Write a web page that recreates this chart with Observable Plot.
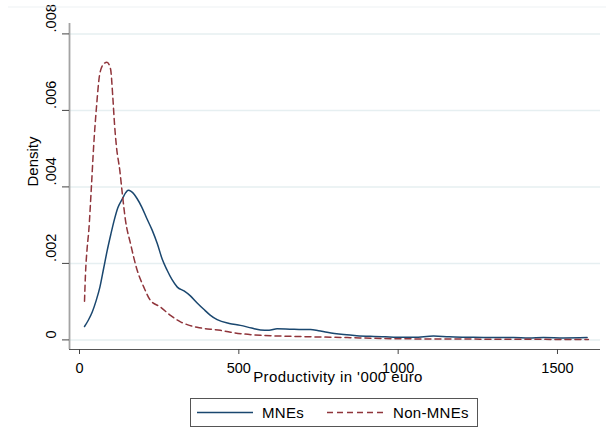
<!DOCTYPE html>
<html>
<head>
<meta charset="utf-8">
<script src="https://cdn.jsdelivr.net/npm/d3@7"></script>
<script src="https://cdn.jsdelivr.net/npm/@observablehq/plot@0.6"></script>
<style>
  html, body { margin: 0; padding: 0; background: #fff; }
  body { font-family: "Liberation Sans", Arial, sans-serif; }
  #chart { position: relative; width: 606px; height: 445px; background: #fff; }
  #legend { position: absolute; left: 190px; top: 398px; }
</style>
</head>
<body>
<div id="chart"></div>
<script>
// ---- data ----
const seriesNames = ["MNEs", "Non-MNEs"];
const seriesColors = ["#1a476f", "#90353b"];

const mneX = [15.7, 28, 40, 52, 64, 76, 87, 98, 108, 120, 134, 145, 153, 162, 172, 181, 195, 212, 228, 244, 260, 275, 290, 307, 328, 348, 370, 390, 410, 432, 470, 505, 540, 568, 595, 620, 660, 700, 725, 750, 777, 800, 829, 870, 924, 960, 997, 1050, 1111, 1160, 1217, 1290, 1362, 1410, 1456, 1520, 1593];
const mneY = [0.00035, 0.00052, 0.00073, 0.00102, 0.00138, 0.00188, 0.00234, 0.00275, 0.0031, 0.00345, 0.00368, 0.00385, 0.00391, 0.00388, 0.0038, 0.00369, 0.00348, 0.00316, 0.00287, 0.00252, 0.0021, 0.00182, 0.00158, 0.00138, 0.00128, 0.00115, 0.00096, 0.0008, 0.00065, 0.00053, 0.00043, 0.00038, 0.00031, 0.00026, 0.00025, 0.00029, 0.00028, 0.00027, 0.00027, 0.00024, 0.0002, 0.00017, 0.00014, 0.00011, 0.00009, 0.00008, 0.00007, 0.00007, 0.0001, 0.00008, 0.00007, 0.00006, 0.00006, 0.00005, 0.000065, 0.00005, 0.00006];

const nonX = [15.7, 18.8, 24, 29.2, 36.7, 44.9, 53.3, 63.7, 76.3, 86, 97.3, 104.5, 109.8, 116.1, 126.5, 134, 144.4, 160, 181, 201.8, 222.8, 254, 285.6, 317, 338, 369, 442, 474, 568, 683, 840, 997, 1258, 1597];
const nonY = [0.00101, 0.00173, 0.0024, 0.00286, 0.00391, 0.00513, 0.00609, 0.00696, 0.00722, 0.00726, 0.00709, 0.00635, 0.00565, 0.00504, 0.00443, 0.00385, 0.00312, 0.00252, 0.00182, 0.00138, 0.00103, 0.00086, 0.00064, 0.00047, 0.0004, 0.00033, 0.00025, 0.0002, 0.00012, 0.00009, 0.00006, 0.00003, 0.00002, 0.00001];

const xTicks = [0, 500, 1000, 1500];
const yTicks = [0, 0.002, 0.004, 0.006, 0.008];
const xTitle = "Productivity in '000 euro";
const yTitle = "Density";

// ---- build table ----
const mneRows = mneX.map((x, i) => ({x, y: mneY[i], s: seriesNames[0]}));
const nonRows = nonX.map((x, i) => ({x, y: nonY[i], s: seriesNames[1]}));

const xDomain = [-31.4, 1635];
const yDomain = [-0.000251, 0.008272];
const yFmt = d => d === 0 ? "0" : d3.format(".3f")(d).replace(/^0\./, ".");

const font = "'Liberation Sans', Arial, sans-serif";

const chart = Plot.plot({
  width: 606,
  height: 392,
  marginLeft: 69,
  marginRight: 6,
  marginTop: 23,
  marginBottom: 43,
  style: {fontFamily: font, fontSize: "14.5px", color: "#000", background: "#fff", overflow: "visible"},
  x: {domain: xDomain},
  y: {domain: yDomain},
  marks: [
    Plot.gridY(yTicks, {stroke: "#e6eff1", strokeOpacity: 1, strokeWidth: 1.5}),
    Plot.ruleX([xDomain[0]], {stroke: "#a3a3a3", strokeWidth: 1.8}),
    Plot.ruleY([yDomain[0]], {stroke: "#555", strokeWidth: 1}),
    Plot.axisY(yTicks, {tickSize: 7, tickFormat: () => "", stroke: "#444", label: null}),
    Plot.text(yTicks, {y: d => d, text: yFmt, frameAnchor: "left", rotate: -90, dx: -18, dy: -1.5, fill: "#000", fontSize: 14.5}),
    Plot.axisX(xTicks, {tickSize: 5, tickPadding: 8, tickFormat: d => String(d), stroke: "#444", fill: "#000", label: null, fontSize: 14.5}),
    Plot.text([xTitle], {frameAnchor: "bottom", dy: 32, dx: 3, text: d => d, fill: "#000", fontSize: 15}),
    Plot.text([yTitle], {frameAnchor: "left", dx: -36, rotate: -90, text: d => d, fill: "#000", fontSize: 15}),
    Plot.line(mneRows, {x: "x", y: "y", stroke: seriesColors[0], strokeWidth: 1.5, curve: "monotone-x"}),
    Plot.line(nonRows, {x: "x", y: "y", stroke: seriesColors[1], strokeWidth: 1.5, strokeDasharray: "6,4", curve: "monotone-x"})
  ]
});

// widen the axis title a little, as in the reference rendering
d3.select(chart).selectAll("text")
  .filter(function() { return this.textContent === xTitle; })
  .attr("letter-spacing", "0.4px");

// faint outer border line at the top of the graph region
d3.select(chart).append("line")
  .attr("x1", 8).attr("x2", 606).attr("y1", 7).attr("y2", 7)
  .attr("stroke", "#eef2f3").attr("stroke-width", 1.2);

const container = document.getElementById("chart");
container.appendChild(chart);

// ---- legend (below the svg) ----
const lw = 288, lh = 29;
const legend = d3.create("svg")
  .attr("id", "legend")
  .attr("width", lw)
  .attr("height", lh)
  .style("font-family", font)
  .style("font-size", "15px");
legend.append("rect")
  .attr("x", 0.5).attr("y", 0.5)
  .attr("width", lw - 1).attr("height", lh - 1)
  .attr("fill", "#fff").attr("stroke", "#555").attr("stroke-width", 1);
const items = [
  {name: seriesNames[0], color: seriesColors[0], dash: null, x0: 7, x1: 63, tx: 72},
  {name: seriesNames[1], color: seriesColors[1], dash: "6,4", x0: 137, x1: 194, tx: 203}
];
for (const it of items) {
  legend.append("line")
    .attr("x1", it.x0).attr("x2", it.x1)
    .attr("y1", lh / 2).attr("y2", lh / 2)
    .attr("stroke", it.color).attr("stroke-width", 1.5)
    .attr("stroke-dasharray", it.dash);
  legend.append("text")
    .attr("x", it.tx).attr("y", lh / 2)
    .attr("dy", "0.35em")
    .attr("fill", "#000")
    .attr("letter-spacing", "0.3px")
    .text(it.name);
}
container.appendChild(legend.node());
</script>
</body>
</html>
